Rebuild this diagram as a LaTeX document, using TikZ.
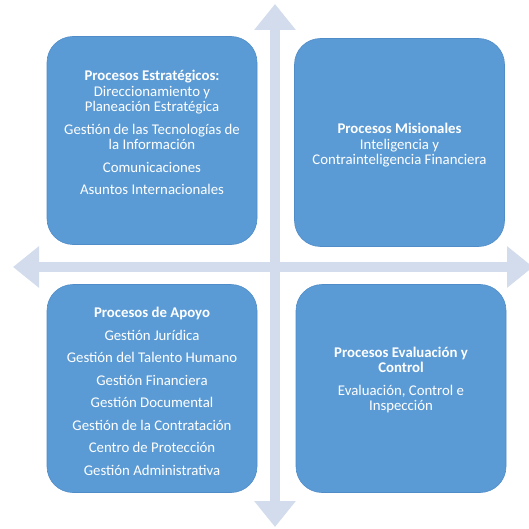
\documentclass[tikz,border=0pt]{standalone}
\usepackage{fontspec}
\setmainfont{Carlito}
\usetikzlibrary{arrows.meta, positioning}
\definecolor{procblue}  {RGB}{ 91, 155, 213}
\definecolor{procedge}  {RGB}{ 80, 140, 200}
\definecolor{axisgray}  {RGB}{210, 220, 236}

\tikzset{
	procbox/.style={draw=procedge, fill=procblue, line width=0.6pt,
		rounded corners=26pt, minimum width=210pt, minimum height=208pt},
	proctext/.style={text=white, align=center, inner sep=0pt, anchor=north,
		font=\fontsize{14.8}{15.5}\selectfont},
	axisarrow/.style={axisgray, line width=10pt,
		{Triangle[length=26pt,width=40pt]}-{Triangle[length=26pt,width=40pt]}}
}

\begin{document}
\begin{tikzpicture}[x=1pt, y=-1pt]
				\useasboundingbox (0,0) rectangle (529,529);
				% axes
				\coordinate (top) at (275,4);
				\coordinate (bottom) at (275,527);
				\coordinate (left) at (13,267);
				\coordinate (right) at (533,267);
				\draw[axisarrow] (top) -- (bottom);
				\draw[axisarrow] (left) -- (right);
				% quadrants
				\node[procbox] (est) at (152,140.5) {};
				\node[procbox] (mis) at (399.5,142.5) {};
				\node[procbox] (apo) at (152,388.5) {};
				\node[procbox] (eva) at (401,388.5) {};
				\node[proctext] (esttxt) at ([yshift=-34pt]est.north)
					{\textbf{Procesos Estratégicos:}\\Direccionamiento y\\Planeación Estratégica\\[7pt]
					Gestión de las Tecnologías de\\la Información\\[7pt]
					Comunicaciones\\[7pt]Asuntos Internacionales};
				\node[proctext] (mistxt) at ([yshift=-85pt]mis.north)
					{\textbf{Procesos Misionales}\\Inteligencia y\\Contrainteligencia Financiera};
				\node[proctext] (apotxt) at ([yshift=-23pt]apo.north)
					{\textbf{Procesos de Apoyo}\\[7pt]Gestión Jurídica\\[7pt]Gestión del Talento Humano\\[7pt]
					Gestión Financiera\\[7pt]Gestión Documental\\[7pt]Gestión de la Contratación\\[7pt]
					Centro de Protección\\[7pt]Gestión Administrativa};
				\node[proctext] (evatxt) at ([yshift=-62.5pt]eva.north)
					{\textbf{Procesos Evaluación y}\\\textbf{Control}\\[7pt]Evaluación, Control e\\Inspección};
			\end{tikzpicture}
\end{document}
